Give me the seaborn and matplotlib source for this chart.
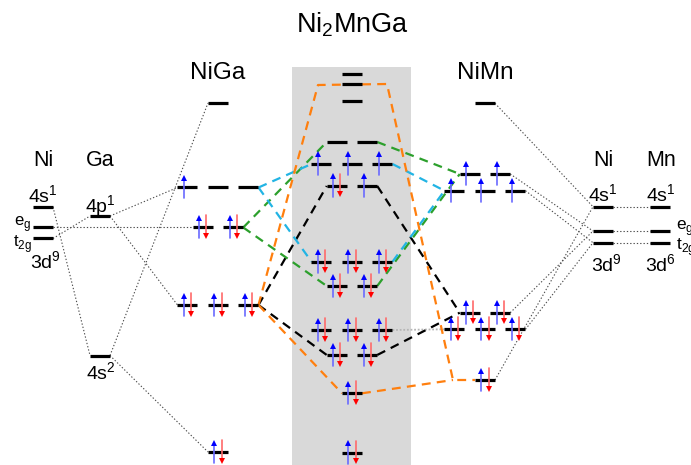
import matplotlib
matplotlib.use("Agg")
import matplotlib.pyplot as plt
import pandas as pd
import seaborn as sns

# column centres on the horizontal axis, and spacing between degenerate levels
column_x = {"Ni": 43, "Ga": 100, "NiGa": 218, "Mid": 352, "NiMn": 485, "NiR": 603, "Mn": 660}
slot_step = 30.5

# atomic levels (energy in arbitrary units, up = higher)
ni_id = ["4s", "eg", "t2g"]
ni_energy = [258.0, 237.5, 226.5]
ga_id = ["4p", "4s"]
ga_energy = [249.0, 109.5]
nir_id = ["4s", "eg", "t2g"]
nir_energy = [258.3, 234.0, 222.3]
mn_id = ["4s", "eg", "t2g"]
mn_energy = [258.3, 234.0, 222.3]

# NiGa molecular levels
niga_id = ["a", "b1", "b2", "b3", "c1", "c2", "d1", "d2", "d3", "e"]
niga_slot = [0, -1, 0, 1, -0.5, 0.5, -1, 0, 1, 0]
niga_energy = [362, 277.5, 277.5, 277.5, 237.5, 237.5, 160, 160, 160, 13]
niga_occ = [0, 1, 0, 0, 2, 2, 2, 2, 2, 2]

# Ni2MnGa levels
mid_id = ["a", "b", "c", "d1", "d2", "e1", "e2", "e3", "f1", "f2", "g1", "g2", "g3",
          "h1", "h2", "i1", "i2", "i3", "j1", "j2", "k", "l"]
mid_slot = [0, 0, 0, -0.5, 0.5, -1, 0, 1, -0.5, 0.5, -1, 0, 1,
            -0.5, 0.5, -1, 0, 1, -0.5, 0.5, 0, 0]
mid_energy = [391, 381, 364.3, 323, 323, 301, 301, 301, 279, 279, 203.3, 203.3, 203.3,
              179, 179, 135, 135, 135, 110, 110, 71.7, 12.3]
mid_occ = [0, 0, 0, 0, 0, 1, 1, 1, 2, 1, 2, 2, 2,
           2, 2, 2, 2, 2, 2, 2, 2, 2]

# NiMn molecular levels
nimn_id = ["a", "b1", "b2", "c1", "c2", "c3", "d1", "d2", "e1", "e2", "e3", "f"]
nimn_slot = [0, -0.5, 0.5, -1, 0, 1, -0.5, 0.5, -1, 0, 1, 0]
nimn_energy = [361.7, 291, 291, 274.3, 274.3, 274.3, 152.3, 152.3, 135.7, 135.7, 135.7, 85]
nimn_occ = [0, 1, 1, 1, 1, 1, 2, 2, 2, 2, 2, 2]

# correlation lines (right end of first level -> left end of second)
dotted_links = [
    ("Ni_4s", "Ga_4s"), ("Ga_4s", "NiGa_a"), ("Ga_4s", "NiGa_e"),
    ("Ni_t2g", "Ga_4p"), ("Ga_4p", "NiGa_b1"), ("Ga_4p", "NiGa_d1"),
    ("Ni_eg", "NiGa_c1"),
    ("NiMn_a", "NiR_4s"), ("NiMn_b2", "NiR_eg"), ("NiMn_c3", "NiR_t2g"),
    ("NiMn_d2", "NiR_eg"), ("NiMn_e3", "NiR_t2g"), ("NiMn_f", "NiR_4s"),
    ("NiR_4s", "Mn_4s"), ("NiR_eg", "Mn_eg"), ("NiR_t2g", "Mn_t2g"),
]
light_links = [("Mid_i3", "NiMn_e1")]
black_links = [("NiGa_d3", "Mid_f1"), ("NiGa_d3", "Mid_j1"),
               ("Mid_f2", "NiMn_d1"), ("Mid_j2", "NiMn_d1")]
green_links = [("NiGa_c2", "Mid_d1"), ("NiGa_c2", "Mid_h1"),
               ("Mid_d2", "NiMn_b1"), ("Mid_h2", "NiMn_b1")]
cyan_links = [("NiGa_b3", "Mid_e1"), ("NiGa_b3", "Mid_g1"),
              ("Mid_e3", "NiMn_c1"), ("Mid_g3", "NiMn_c1")]
orange_links = [("NiGa_d3", "Mid_k")]
orange_bend_x = [318, 387, 453]
orange_bend_e = [380, 381, 85]


def block(col, ids, energy, slot=None, occ=None):
    n = len(ids)
    return pd.DataFrame({
        "name": [f"{col}_{i}" for i in ids],
        "col": col,
        "slot": slot if slot is not None else [0] * n,
        "energy": energy,
        "occ": occ if occ is not None else [0] * n,
    })


levels = pd.concat([
    block("Ni", ni_id, ni_energy),
    block("Ga", ga_id, ga_energy),
    block("NiGa", niga_id, niga_energy, niga_slot, niga_occ),
    block("Mid", mid_id, mid_energy, mid_slot, mid_occ),
    block("NiMn", nimn_id, nimn_energy, nimn_slot, nimn_occ),
    block("NiR", nir_id, nir_energy),
    block("Mn", mn_id, mn_energy),
], ignore_index=True)
levels["x"] = levels["col"].map(column_x) + levels["slot"] * slot_step
lv = levels.set_index("name")

half = 10  # half length of a level bar

sns.set_theme(style="white")
plt.rcParams["font.family"] = ["Liberation Sans", "DejaVu Sans"]
plt.rcParams["mathtext.fontset"] = "custom"
plt.rcParams["mathtext.rm"] = "Liberation Sans"
plt.rcParams["text.color"] = "black"

fig = plt.figure(figsize=(6.91, 4.65), dpi=100)
ax = fig.add_axes([0, 0, 1, 1])
ax.set_xlim(0, 691)
ax.set_ylim(0, 465)
ax.axis("off")

# grey band behind the Ni2MnGa column
ax.add_patch(plt.Rectangle((292, 0), 119, 398, color="#d9d9d9", lw=0, zorder=0))


def right_end(name):
    return lv.loc[name, "x"] + half, lv.loc[name, "energy"]


def left_end(name):
    return lv.loc[name, "x"] - half, lv.loc[name, "energy"]


def draw_links(links, **kw):
    for a, b in links:
        x0, e0 = right_end(a)
        x1, e1 = left_end(b)
        ax.plot([x0, x1], [e0, e1], **kw)


dotted = dict(color="#4d4d4d", lw=0.8, ls=(0, (1.2, 1.8)), zorder=2)
draw_links(dotted_links, **dotted)
draw_links(light_links, color="#b5b5b5", lw=1.3, ls=(0, (1, 1)), zorder=2)

dash = dict(lw=1.6, ls=(0, (4, 2.8)), zorder=3)
draw_links(black_links, color="black", **dash)
draw_links(green_links, color="#2ca02c", **dash)
draw_links(cyan_links, color="#22b4e4", **dash)
draw_links(orange_links, color="#ff7f0e", **dash)

# orange path over the top and down to NiMn
x0, e0 = right_end("NiGa_d3")
x1, e1 = left_end("NiMn_f")
ax.plot([x0] + orange_bend_x + [x1], [e0] + orange_bend_e + [e1], color="#ff7f0e", **dash)
xk, ek = right_end("Mid_k")
ax.plot([xk, orange_bend_x[-1]], [ek, orange_bend_e[-1]], color="#ff7f0e", **dash)

# level bars and spins
for _, row in levels.iterrows():
    x, e = row["x"], row["energy"]
    ax.plot([x - half, x + half], [e, e], color="black", lw=2.3,
            solid_capstyle="butt", zorder=4)
    if row["occ"] >= 1:
        ax.plot([x - 3.7, x - 3.7], [e - 11, e + 9], color="#6a6aff", lw=1.2, zorder=5)
        ax.plot(x - 3.7, e + 9.5, marker="^", ms=4.2, color="blue", mew=0, zorder=6)
    if row["occ"] == 2:
        ax.plot([x + 3.7, x + 3.7], [e + 12, e - 8], color="#ff6a6a", lw=1.2, zorder=5)
        ax.plot(x + 3.7, e - 8.5, marker="v", ms=4.2, color="red", mew=0, zorder=6)

# titles
ax.text(353, 440, r"Ni$_\mathregular{2}$MnGa", fontsize=19.5, ha="center", va="center")
ax.text(218, 392, "NiGa", fontsize=17.5, ha="center", va="center")
ax.text(485, 392, "NiMn", fontsize=17.5, ha="center", va="center")

# atomic labels
for name, x in [("Ni", 43), ("Ga", 100), ("Ni", 603), ("Mn", 661)]:
    ax.text(x, 304, name, fontsize=15.5, ha="center", va="center")

lab = dict(fontsize=14, ha="center", va="baseline")
ax.text(43, 262.3, r"4s$^\mathregular{1}$", **lab)
ax.text(100, 252, r"4p$^\mathregular{1}$", **lab)
ax.text(101, 85, r"4s$^\mathregular{2}$", **lab)
ax.text(45, 196, r"3d$^\mathregular{9}$", **lab)
ax.text(603, 263.3, r"4s$^\mathregular{1}$", **lab)
ax.text(661, 263.3, r"4s$^\mathregular{1}$", **lab)
ax.text(606, 193.3, r"3d$^\mathregular{9}$", **lab)
ax.text(660, 193.3, r"3d$^\mathregular{6}$", **lab)

ax.text(31, 241, r"e$_\mathregular{g}$", fontsize=12, ha="right", va="center")
ax.text(32, 221, r"t$_\mathregular{2g}$", fontsize=12, ha="right", va="center")
ax.text(676, 237, r"e$_\mathregular{g}$", fontsize=12.5, ha="left", va="center")
ax.text(676, 218, r"t$_\mathregular{2g}$", fontsize=12.5, ha="left", va="center")

fig.savefig("out.png", dpi=100)
